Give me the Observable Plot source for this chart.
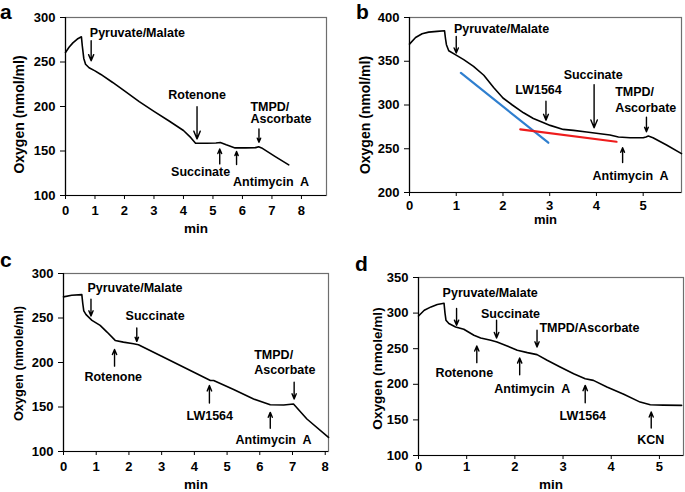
<!DOCTYPE html>
<html><head><meta charset="utf-8">
<script src="https://cdn.jsdelivr.net/npm/d3@7"></script>
<script src="https://cdn.jsdelivr.net/npm/@observablehq/plot@0.6"></script>
<style>
body{margin:0;background:#fff;}
#wrap{position:relative;width:685px;height:492px;font-family:Arial,"Liberation Sans",sans-serif;overflow:hidden;}
.panel{position:absolute;}
.letter{position:absolute;font-weight:bold;font-size:21px;line-height:1;color:#000;}
</style></head><body><div id="wrap"></div>
<script>
// ---------- Panel a ----------
const aTime = [0,0.12,0.25,0.4,0.54,0.57,0.62,0.68,0.8,1.0,1.2,1.6,2.0,2.5,3.0,3.5,4.0,4.25,4.41,4.8,5.1,5.25,5.45,5.75,6.1,6.45,6.55,6.65,7.1,7.57];
const aO2   = [260.7,266.5,271.5,275.8,278.3,268,254,247.5,243.5,240,236,227,217.5,205.5,194.5,184,173,165,158.7,158.7,159,159.5,157,153.5,153.5,153.8,154.8,153.5,144,134.4];
const aNotes = [
  {label:"Pyruvate/Malate", anchor:"start", tx:0.825, ty:282.4, x:0.87, y1:273.8, y2:251.4},
  {label:"Rotenone", anchor:"middle", tx:4.46, ty:212.9, x:4.46, y1:199.8, y2:163.6},
  {label:"TMPD/\nAscorbate", anchor:"start", tx:6.27, ty:192.9, x:6.56, y1:174.8, y2:159.8},
  {label:"Succinate", anchor:"middle", tx:4.58, ty:126.2, x:5.23, y1:135.5, y2:152.3},
  {label:"Antimycin\u00a0 A", anchor:"middle", tx:6.97, ty:115, x:5.8, y1:134.8, y2:149.4}
];
// ---------- Panel b ----------
const bTime = [0,0.13,0.27,0.41,0.59,0.75,0.77,0.79,0.84,0.98,1.16,1.37,1.59,1.8,2.0,2.2,2.44,2.65,2.87,3.01,3.29,3.51,3.79,4.08,4.29,4.47,4.72,5.0,5.06,5.11,5.21,5.5,5.82];
const bO2   = [369.6,377.2,381.4,383.3,384.1,384.8,376,368.9,362,357.5,351.8,344.2,334,320,308,300,291.1,284.6,279.7,276.7,272.1,271,269.1,267.2,265.7,263.4,262.6,262.6,263.5,264.5,262.6,254.3,244.4];
const bBlueTime = [1.1, 2.97];
const bBlueO2   = [336.6, 256.9];
const bRedTime  = [2.37, 4.43];
const bRedO2    = [272.1, 258];
const bNotes = [
  {label:"Pyruvate/Malate", anchor:"start", tx:0.95, ty:387.9, x:1.0, y1:378.4, y2:359.4},
  {label:"LW1564", anchor:"middle", tx:2.76, ty:316.9, x:2.92, y1:304.4, y2:282.7},
  {label:"Succinate", anchor:"middle", tx:3.93, ty:334, x:3.95, y1:323.3, y2:274},
  {label:"TMPD/\nAscorbate", anchor:"start", tx:4.4, ty:306.6, x:5.07, y1:286.1, y2:269.4},
  {label:"Antimycin\u00a0 A", anchor:"middle", tx:4.73, ty:219, x:4.56, y1:234.2, y2:251.2}
];
// ---------- Panel c ----------
const cTime = [0,0.25,0.56,0.59,0.62,0.69,0.87,1.12,1.33,1.58,1.83,2.14,2.29,3.0,4.0,4.49,4.59,5.2,5.81,6.32,6.73,7.03,7.44,8.1];
const cO2   = [273.7,275.6,276.3,266,258,253.8,247.4,241.7,234.2,224.8,222.9,221.1,220,207,188.7,179.7,179.7,169.6,159,152.6,152.3,153.4,136.5,115.8];
const cNotes = [
  {label:"Pyruvate/Malate", anchor:"start", tx:0.73, ty:285, x:0.84, y1:271.1, y2:252.3},
  {label:"Succinate", anchor:"middle", tx:2.8, ty:251.9, x:2.24, y1:238.7, y2:223.7},
  {label:"Rotenone", anchor:"middle", tx:1.52, ty:183.5, x:1.56, y1:195.9, y2:214.7},
  {label:"LW1564", anchor:"middle", tx:4.47, ty:140.2, x:4.46, y1:154.5, y2:174.1},
  {label:"Antimycin\u00a0 A", anchor:"middle", tx:6.42, ty:113.2, x:6.32, y1:126, y2:144},
  {label:"TMPD/\nAscorbate", anchor:"start", tx:5.83, ty:201.3, x:7.05, y1:177.8, y2:159}
];
// ---------- Panel d ----------
const dTime = [0,0.12,0.26,0.39,0.53,0.55,0.57,0.63,0.77,0.94,1.15,1.29,1.5,1.63,1.84,2.05,2.26,2.46,2.67,2.94,3.22,3.46,3.63,3.91,4.26,4.6,4.81,5.08,5.46];
const dO2   = [296,304,308.7,312,313.9,300,290,285.3,280.6,277.3,268.9,265.1,261.8,259.5,253.9,247.8,244.5,241.7,233.7,224.3,214.9,207.9,205.5,196.2,185.9,175,171.3,170.8,170.4];
const dNotes = [
  {label:"Pyruvate/Malate", anchor:"start", tx:0.5, ty:328.9, x:0.79, y1:306.4, y2:282.9},
  {label:"Succinate", anchor:"middle", tx:1.91, ty:299.3, x:1.62, y1:290, y2:265.1},
  {label:"TMPD/Ascorbate", anchor:"start", tx:2.51, ty:280.6, x:2.46, y1:275.9, y2:252.4},
  {label:"Rotenone", anchor:"middle", tx:0.95, ty:216.3, x:1.21, y1:230.4, y2:253.9},
  {label:"Antimycin\u00a0 A", anchor:"middle", tx:2.36, ty:193.8, x:2.1, y1:213.5, y2:237},
  {label:"LW1564", anchor:"middle", tx:3.41, ty:155.4, x:3.46, y1:174.1, y2:198.5},
  {label:"KCN", anchor:"middle", tx:4.82, ty:121.1, x:4.83, y1:138.5, y2:161}
];

const FONT = "Arial, 'Liberation Sans', sans-serif";
const wrap = document.getElementById("wrap");

function toPts(ts, vs){ return ts.map((t,i)=>({t, o: vs[i]})); }

function panel(cfg){
  const marks = [
    Plot.frame({stroke:"#6e6e6e", strokeWidth:1.2}),
    Plot.ruleX([0], {stroke:"#000", strokeWidth:1.2}),
    Plot.ruleY([cfg.yDomain[0]], {stroke:"#000", strokeWidth:1.2}),
    Plot.axisX({ticks: cfg.xTicks, tickFormat: d => String(d), tickSize:4, tickPadding: cfg.xPad, label:null}),
    Plot.axisY({ticks: cfg.yTicks, tickFormat: d => String(d), tickSize:5, tickPadding:5, label:null}),
    ...(cfg.extra || []),
    Plot.line(toPts(cfg.time, cfg.o2), {x:"t", y:"o", stroke:"#000", strokeWidth:1.6}),
    Plot.arrow(cfg.notes, {x1:"x", x2:"x", y1:"y1", y2:"y2", stroke:"#000", strokeWidth:1.4, headLength:9, headAngle:45}),
    Plot.text(cfg.notes, {filter: d=>d.anchor==="start", x:"tx", y:"ty", text:"label", textAnchor:"start", lineAnchor:"middle", lineHeight: cfg.lh, fontSize:12.5, fontWeight:"bold"}),
    Plot.text(cfg.notes, {filter: d=>d.anchor==="middle", x:"tx", y:"ty", text:"label", textAnchor:"middle", lineAnchor:"middle", fontSize:12.5, fontWeight:"bold"}),
    Plot.text(["min"], {frameAnchor:"bottom", textAnchor:"middle", lineAnchor:"middle", dy: cfg.minDy, fontSize: cfg.minSize, fontWeight:"bold"}),
    Plot.text([cfg.yLabel], {frameAnchor:"left", textAnchor:"middle", lineAnchor:"middle", rotate:-90, dx: cfg.yDx, dy: cfg.yDy, fontSize: cfg.ySize, fontWeight:"bold"})
  ];
  const svg = Plot.plot({
    width: cfg.w, height: cfg.h,
    marginLeft: cfg.m[0], marginRight: cfg.m[1], marginTop: cfg.m[2], marginBottom: cfg.m[3],
    x: {domain: cfg.xDomain},
    y: {domain: cfg.yDomain},
    style: {fontFamily: FONT, fontSize: "13px", fontWeight: "bold", color: "#000", background: "transparent", overflow: "visible"},
    marks
  });
  const div = document.createElement("div");
  div.className = "panel";
  div.style.left = cfg.left + "px";
  div.style.top = cfg.top + "px";
  div.appendChild(svg);
  wrap.appendChild(div);
  const L = document.createElement("div");
  L.className = "letter";
  L.textContent = cfg.letter;
  L.style.left = cfg.letterPos[0] + "px";
  L.style.top = cfg.letterPos[1] + "px";
  wrap.appendChild(L);
}

panel({letter:"a", letterPos:[0,1], left:0, top:0, w:342, h:240, m:[65,16,17,45],
  xDomain:[0,8.85], xTicks:[0,1,2,3,4,5,6,7,8], yDomain:[100,300], yTicks:[100,150,200,250,300],
  xPad:6, minDy:33, minSize:13.5, yLabel:"Oxygen (nmol/ml)", yDx:-46, yDy:8, ySize:14, lh:1.0,
  time:aTime, o2:aO2, notes:aNotes});

panel({letter:"b", letterPos:[356,1], left:342, top:0, w:343, h:240, m:[67,4,17,48],
  xDomain:[0,5.82], xTicks:[0,1,2,3,4,5], yDomain:[200,400], yTicks:[200,250,300,350,400],
  xPad:4, minDy:27, minSize:13, yLabel:"Oxygen (nmol/ml)", yDx:-44, yDy:10, ySize:14, lh:1.28,
  time:bTime, o2:bO2, notes:bNotes,
  extra:[
    Plot.line(toPts(bBlueTime, bBlueO2), {x:"t", y:"o", stroke:"#2f7fcf", strokeWidth:2.2}),
    Plot.line(toPts(bRedTime, bRedO2), {x:"t", y:"o", stroke:"#ee1c1c", strokeWidth:2.2})
  ]});

panel({letter:"c", letterPos:[0,249], left:0, top:245, w:342, h:247, m:[63,14,28,41],
  xDomain:[0,8.1], xTicks:[0,1,2,3,4,5,6,7,8], yDomain:[100,300], yTicks:[100,150,200,250,300],
  xPad:6, minDy:33, minSize:13.5, yLabel:"Oxygen (nmole/ml)", yDx:-45, yDy:1, ySize:12.8, lh:1.2,
  time:cTime, o2:cO2, notes:cNotes});

panel({letter:"d", letterPos:[355,253], left:342, top:245, w:343, h:247, m:[76,2,32,37],
  xDomain:[0,5.5], xTicks:[0,1,2,3,4,5], yDomain:[100,350], yTicks:[100,150,200,250,300,350],
  xPad:2, minDy:29, minSize:13.5, yLabel:"Oxygen (nmole/ml)", yDx:-41, yDy:2, ySize:13.6, lh:1.2,
  time:dTime, o2:dO2, notes:dNotes});
</script>
</body></html>
